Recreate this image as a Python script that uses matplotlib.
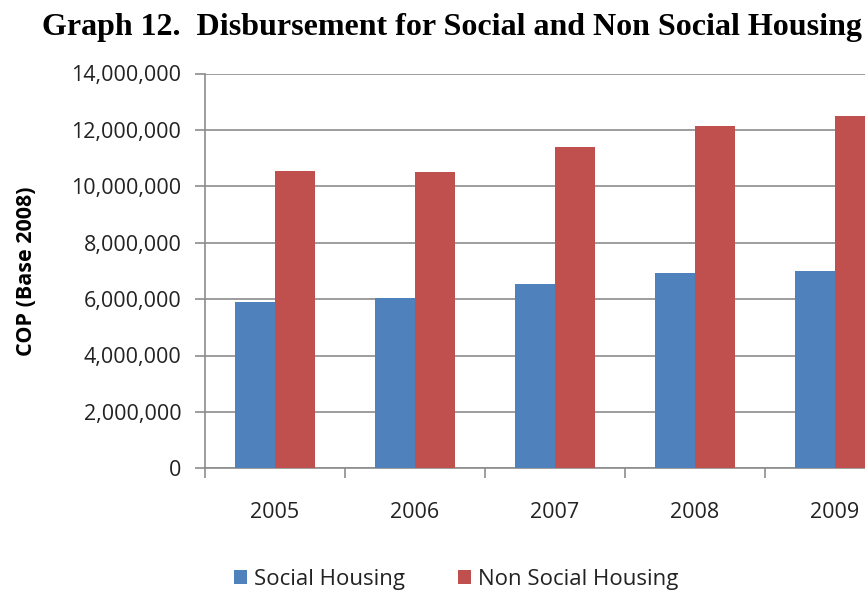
import matplotlib
matplotlib.use("Agg")
import matplotlib.pyplot as plt
import numpy as np
from matplotlib.ticker import FuncFormatter, FixedLocator

years = ["2005", "2006", "2007", "2008", "2009"]
social = [5.91e6, 6.03e6, 6.55e6, 6.92e6, 7.00e6]
non_social = [10.54e6, 10.50e6, 11.40e6, 12.14e6, 12.50e6]
yticks = [0, 2e6, 4e6, 6e6, 8e6, 10e6, 12e6, 14e6]

blue = "#4F81BD"
red = "#C0504D"
grid_c = "#8C8C8C"
font = "Open Sans"
fs = 15.5

fig = plt.figure(figsize=(8.65, 5.94), dpi=100)
ax = fig.add_axes([205/865, (594-468.3)/594, 700/865, 394.8/594])

x = np.arange(len(years))
w = 0.286
ax.bar(x - w/2, social, width=w, color=blue, label="Social Housing", zorder=3)
ax.bar(x + w/2, non_social, width=w, color=red, label="Non Social Housing", zorder=3)

ax.set_xlim(-0.5, len(years) - 0.5)
ax.set_ylim(0, 14e6)
ax.set_yticks(yticks)
ax.yaxis.set_major_formatter(FuncFormatter(lambda v, p: f"{int(v):,}"))
ax.grid(axis="y", color=grid_c, linewidth=1.2, zorder=0)

ax.set_xticks(x)
ax.set_xticklabels(years)
ax.xaxis.set_minor_locator(FixedLocator(np.arange(-0.5, len(years), 1.0)))
ax.tick_params(axis="x", which="major", length=0, pad=24, labelsize=fs, labelcolor="#222222")
ax.tick_params(axis="x", which="minor", length=7, width=1.2, color=grid_c, direction="out")
ax.tick_params(axis="y", length=7, width=1.2, color=grid_c, pad=10, labelsize=fs, labelcolor="#222222")
for lab in ax.get_xticklabels() + ax.get_yticklabels():
    lab.set_family(font)

for s in ["top", "right"]:
    ax.spines[s].set_visible(False)
ax.spines["left"].set_color(grid_c)
ax.spines["bottom"].set_color(grid_c)
ax.spines["left"].set_linewidth(1.2)
ax.spines["bottom"].set_linewidth(1.2)

ax.set_ylabel("COP (Base 2008)", fontsize=fs, fontweight="bold", family=font)
ax.yaxis.set_label_coords(-(205 - 27) / 700, 0.5)
ax.yaxis.label.set_va("center")

fig.text(42/865, 1 - 27/594, "Graph 12.  Disbursement for Social and Non Social Housing",
         family="Liberation Serif", fontweight="bold", fontsize=23, va="center", ha="left")

leg = fig.legend(loc="center", bbox_to_anchor=(456/865, 1 - 579/594), ncol=2, frameon=False,
                 prop={"family": font, "size": 16}, handlelength=0.6, handleheight=0.6,
                 columnspacing=2.4, handletextpad=0.3)
for t in leg.get_texts():
    t.set_color("#222222")

fig.savefig("out.png", dpi=100)
